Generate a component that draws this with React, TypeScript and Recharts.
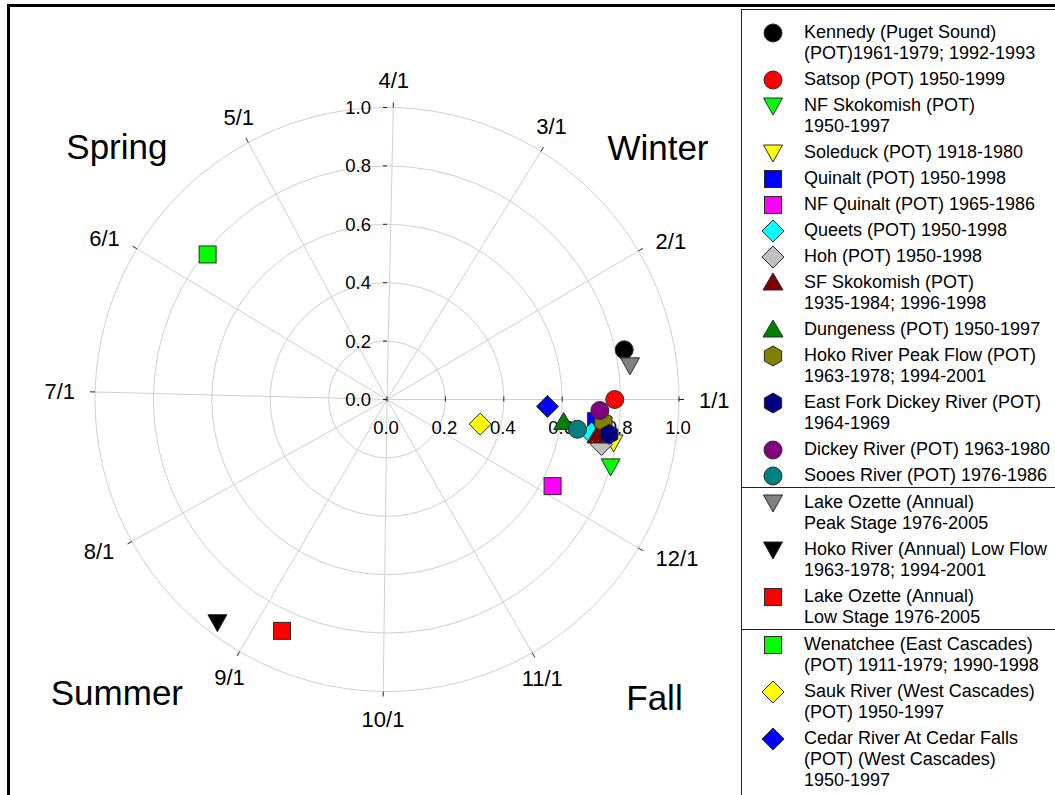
import { ScatterChart, Scatter, XAxis, YAxis, ReferenceLine, ReferenceDot } from "recharts";

// legend text, one array entry per series (lines of the legend label)
const seriesNames: string[][] = [
  ["Kennedy (Puget Sound)", "(POT)1961-1979; 1992-1993"],
  ["Satsop (POT) 1950-1999"],
  ["NF Skokomish (POT)", "1950-1997"],
  ["Soleduck (POT) 1918-1980"],
  ["Quinalt (POT) 1950-1998"],
  ["NF Quinalt (POT) 1965-1986"],
  ["Queets (POT) 1950-1998"],
  ["Hoh (POT) 1950-1998"],
  ["SF Skokomish (POT)", "1935-1984; 1996-1998"],
  ["Dungeness (POT) 1950-1997"],
  ["Hoko River Peak Flow (POT)", "1963-1978; 1994-2001"],
  ["East Fork Dickey River (POT)", "1964-1969"],
  ["Dickey River (POT) 1963-1980"],
  ["Sooes River (POT) 1976-1986"],
  ["Lake Ozette (Annual)", "Peak Stage 1976-2005"],
  ["Hoko River (Annual) Low Flow", "1963-1978; 1994-2001"],
  ["Lake Ozette (Annual)", "Low Stage 1976-2005"],
  ["Wenatchee (East Cascades)", "(POT) 1911-1979; 1990-1998"],
  ["Sauk River (West Cascades)", "(POT) 1950-1997"],
  ["Cedar River At Cedar Falls", "(POT) (West Cascades)", "1950-1997"],
];

// mean date of occurrence, as day of the year (0 = 1/1)
const meanDay = [12, 0, 348, 354, 359, 337, 355.5, 353, 355, 357.5, 359, 356, 362, 356, 8, 236, 249, 143, 350, 362.5];
// seasonality strength (radius, 0..1)
const strength = [0.83, 0.78, 0.8, 0.79, 0.72, 0.64, 0.71, 0.75, 0.73, 0.61, 0.745, 0.77, 0.73, 0.66, 0.84, 0.96, 0.87, 0.79, 0.33, 0.55];

const colors = [
  "#000000", "#ff0000", "#00ff00", "#ffff00", "#0000ff", "#ff00ff", "#00ffff", "#c0c0c0", "#800000", "#008000",
  "#808000", "#000080", "#800080", "#008080", "#808080", "#000000", "#ff0000", "#00ff00", "#ffff00", "#0000ff",
];
const symbols = [
  "circle", "circle", "triDown", "triDown", "square", "square", "diamond", "diamond", "triangle", "triangle",
  "hexagon", "hexagon", "circle", "circle", "triDown", "triDown", "square", "square", "diamond", "diamond",
];
const groups = [0, 0, 0, 0, 0, 0, 0, 0, 0, 0, 0, 0, 0, 0, 1, 1, 1, 2, 2, 2];

const monthDays = [0, 31, 59, 90, 120, 151, 181, 212, 243, 273, 304, 334];
const monthLabels = ["1/1", "2/1", "3/1", "4/1", "5/1", "6/1", "7/1", "8/1", "9/1", "10/1", "11/1", "12/1"];
const radialTicks = [0, 0.2, 0.4, 0.6, 0.8, 1.0];
const gridRings = [0.2, 0.4, 0.6, 0.8, 1.0];

const seasonNames = ["Spring", "Winter", "Summer", "Fall"];
const seasonPos = [
  { x: -0.925, y: 0.865 },
  { x: 0.928, y: 0.861 },
  { x: -0.925, y: -1.005 },
  { x: 0.916, y: -1.022 },
];

const FONT = "'Liberation Sans', Arial, sans-serif";
const toAngle = (day: number) => (day / 365) * Math.PI * 2;

const points = meanDay.map((d, i) => ({
  x: strength[i] * Math.cos(toAngle(d)),
  y: strength[i] * Math.sin(toAngle(d)),
}));

function Marker({ cx, cy, symbol, color }: any) {
  const s = { fill: color, stroke: "#2a2a2a", strokeWidth: 1 };
  switch (symbol) {
    case "circle":
      return <circle cx={cx} cy={cy} r={9} {...s} />;
    case "square":
      return <rect x={cx - 8.5} y={cy - 8.5} width={17} height={17} {...s} />;
    case "diamond":
      return <polygon points={`${cx},${cy - 11} ${cx + 11},${cy} ${cx},${cy + 11} ${cx - 11},${cy}`} {...s} />;
    case "triangle":
      return <polygon points={`${cx},${cy - 10} ${cx + 10},${cy + 7} ${cx - 10},${cy + 7}`} {...s} />;
    case "triDown":
      return <polygon points={`${cx - 9.5},${cy - 8} ${cx + 9.5},${cy - 8} ${cx},${cy + 9}`} {...s} />;
    case "hexagon": {
      const pts = [0, 1, 2, 3, 4, 5]
        .map((k) => {
          const a = Math.PI / 2 + (k * Math.PI) / 3;
          return `${cx + 10 * Math.cos(a)},${cy - 10 * Math.sin(a)}`;
        })
        .join(" ");
      return <polygon points={pts} {...s} />;
    }
    default:
      return null;
  }
}

const ringShape = (p: any) => (
  <circle cx={(p.x1 + p.x2) / 2} cy={(p.y1 + p.y2) / 2} r={Math.abs(p.x2 - p.x1) / 2} fill="none" stroke="#cfcfcf" strokeWidth={1} />
);

const spokeShape = (p: any) => {
  const len = Math.hypot(p.x2 - p.x1, p.y2 - p.y1) || 1;
  const ux = (p.x2 - p.x1) / len;
  const uy = (p.y2 - p.y1) / len;
  return (
    <g>
      <line x1={p.x1} y1={p.y1} x2={p.x2} y2={p.y2} stroke="#cfcfcf" strokeWidth={1} />
      <line x1={p.x2} y1={p.y2} x2={p.x2 + ux * 5} y2={p.y2 + uy * 5} stroke="#222" strokeWidth={1} />
    </g>
  );
};

const monthLabelShape = (label: string, day: number) => (p: any) => {
  const c = Math.cos(toAngle(day));
  const s = Math.sin(toAngle(day));
  const x = p.cx + 20 * c;
  const y = p.cy - 20 * s;
  let anchor = "middle";
  let by = y + 8;
  if (Math.abs(c) > 0.7) {
    anchor = c > 0 ? "start" : "end";
  } else {
    by = s > 0 ? y : y + 16;
  }
  return (
    <text x={x} y={by} textAnchor={anchor} fontSize={22} fontFamily={FONT} fill="#000">
      {label}
    </text>
  );
};

const vTickShape = (v: number) => (p: any) => (
  <g>
    <line x1={p.cx - 4} y1={p.cy} x2={p.cx} y2={p.cy} stroke="#222" strokeWidth={1} />
    <text x={p.cx - 16} y={p.cy + 6.5} textAnchor="end" fontSize={18.5} fontFamily={FONT} fill="#000">
      {v.toFixed(1)}
    </text>
  </g>
);

const hTickShape = (v: number) => (p: any) => (
  <g>
    <line x1={p.cx} y1={p.cy - 3} x2={p.cx} y2={p.cy + 2} stroke="#222" strokeWidth={1} />
    <text x={p.cx - 1} y={p.cy + 34} textAnchor="middle" fontSize={18.5} fontFamily={FONT} fill="#000">
      {v.toFixed(1)}
    </text>
  </g>
);

const seasonShape = (name: string) => (p: any) => (
  <text x={p.cx} y={p.cy + 12} textAnchor="middle" fontSize={35} fontFamily={FONT} fill="#000">
    {name}
  </text>
);

function LegendBox() {
  return (
    <div
      style={{
        position: "absolute",
        left: 741,
        top: 9,
        width: 330,
        height: 800,
        borderLeft: "1.5px solid #222",
        borderTop: "1.5px solid #222",
        fontFamily: FONT,
        fontSize: 18,
        color: "#000",
        paddingTop: 12,
        boxSizing: "border-box",
      }}
    >
      {seriesNames.map((lines, i) => (
        <div key={i}>
          {i > 0 && groups[i] !== groups[i - 1] && (
            <div style={{ borderTop: "1.5px solid #222", height: 0, margin: "-4px 0 4px 0" }} />
          )}
          <div style={{ display: "flex", height: lines.length * 21 + 5 }}>
            <svg width={62} height={22} style={{ flex: "none" }}>
              <Marker cx={31} cy={11} symbol={symbols[i]} color={colors[i]} />
            </svg>
            <div style={{ lineHeight: "21px", whiteSpace: "nowrap" }}>
              {lines.map((t, k) => (
                <div key={k}>{t}</div>
              ))}
            </div>
          </div>
        </div>
      ))}
    </div>
  );
}

export default function App() {
  return (
    <div style={{ position: "absolute", left: 0, top: 0, width: 1055, height: 795, overflow: "hidden", background: "#fff" }}>
      <div
        style={{
          position: "absolute",
          left: 7,
          top: 4,
          width: 1060,
          height: 800,
          borderLeft: "3px solid #000",
          borderTop: "3px solid #000",
        }}
      />
      <div style={{ position: "absolute", left: 0, top: 0 }}>
        <ScatterChart width={740} height={795} margin={{ top: 107.5, right: 61, bottom: 103.5, left: 95 }}>
          <XAxis type="number" dataKey="x" domain={[-1, 1]} allowDataOverflow hide />
          <YAxis type="number" dataKey="y" domain={[-1, 1]} allowDataOverflow hide />
          {gridRings.map((r) => (
            <ReferenceLine key={`ring${r}`} segment={[{ x: -r, y: 0 }, { x: r, y: 0 }]} shape={ringShape} ifOverflow="visible" />
          ))}
          {monthDays.map((d) => (
            <ReferenceLine
              key={`spoke${d}`}
              segment={[{ x: 0, y: 0 }, { x: Math.cos(toAngle(d)), y: Math.sin(toAngle(d)) }]}
              shape={spokeShape}
              ifOverflow="visible"
            />
          ))}
          {monthDays.map((d, i) => (
            <ReferenceDot
              key={`ml${d}`}
              x={Math.cos(toAngle(d))}
              y={Math.sin(toAngle(d))}
              r={0}
              ifOverflow="visible"
              shape={monthLabelShape(monthLabels[i], d)}
            />
          ))}
          {radialTicks.map((v) => (
            <ReferenceDot key={`vt${v}`} x={0} y={v} r={0} ifOverflow="visible" shape={vTickShape(v)} />
          ))}
          {radialTicks.map((v) => (
            <ReferenceDot key={`ht${v}`} x={v} y={0} r={0} ifOverflow="visible" shape={hTickShape(v)} />
          ))}
          {seasonNames.map((n, i) => (
            <ReferenceDot key={n} x={seasonPos[i].x} y={seasonPos[i].y} r={0} ifOverflow="visible" shape={seasonShape(n)} />
          ))}
          {points.map((pt, i) => (
            <Scatter
              key={i}
              name={seriesNames[i].join(" ")}
              data={[pt]}
              isAnimationActive={false}
              shape={(p: any) => <Marker cx={p.cx} cy={p.cy} symbol={symbols[i]} color={colors[i]} />}
            />
          ))}
        </ScatterChart>
      </div>
      <LegendBox />
    </div>
  );
}
